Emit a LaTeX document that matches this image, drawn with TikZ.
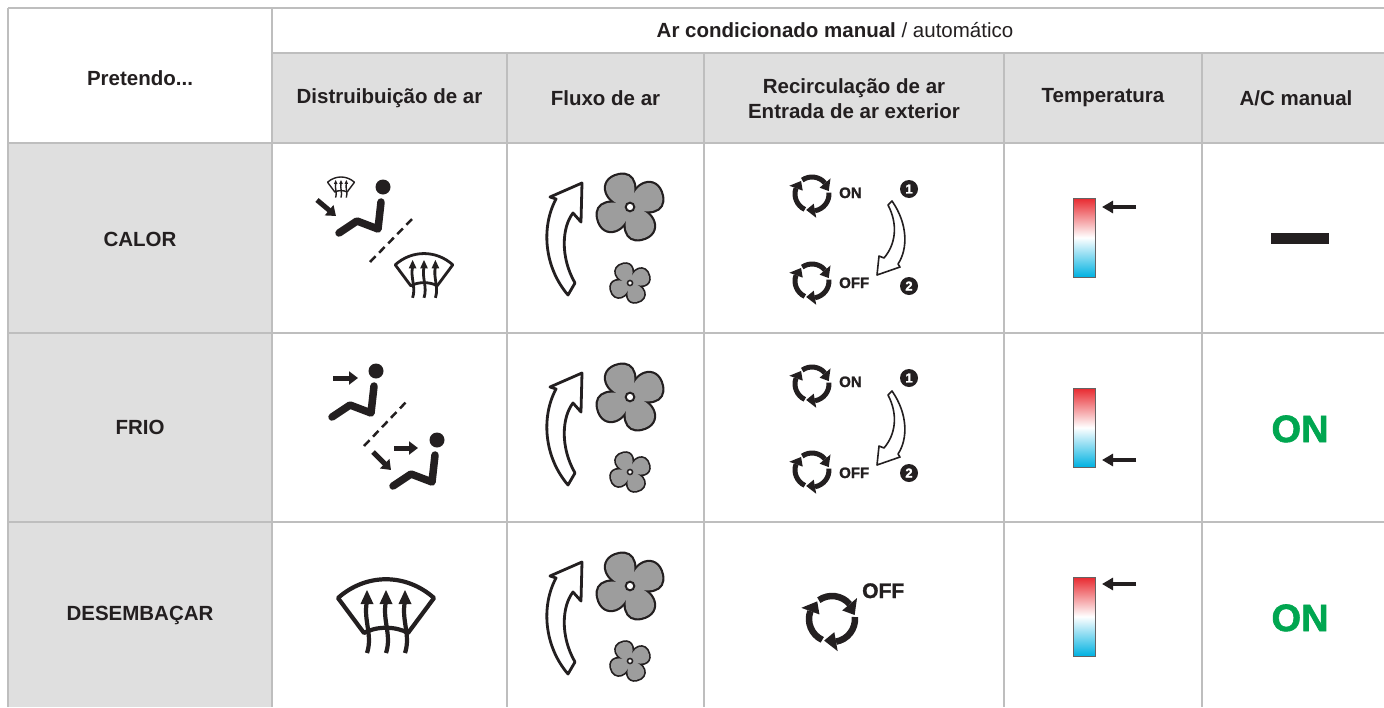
\documentclass[tikz,border=0pt]{standalone}
\usepackage{fontspec}
\setmainfont{Liberation Sans}
\newfontfamily\heavyfont[FakeBold=1.6]{Liberation Sans Bold}
\usetikzlibrary{arrows.meta}

\definecolor{gridgrey}{HTML}{BEBEBE}
\definecolor{headgrey}{HTML}{DFDFDF}
\definecolor{ink}{HTML}{231F20}
\definecolor{fangrey}{HTML}{9D9D9D}
\definecolor{acgreen}{HTML}{00A650}
\definecolor{hotred}{HTML}{E8292F}
\definecolor{coldblue}{HTML}{00B1E1}

\newcommand\fanblade{(0,0) .. controls (0.25,-0.72) and (1.05,-0.76) .. (1.02,-0.08) .. controls (1.0,0.42) and (0.45,0.38) .. (0,0)}

\tikzset{
  gridline/.style={draw=gridgrey,line width=2pt},
  headtext/.style={text=ink,font=\fontsize{20.5}{25}\selectfont\bfseries,align=center},
  limb/.style={ink,line width=7.5pt,line cap=round,line join=round},
  blowarrow/.style={ink,line width=5pt,-{Triangle[length=9pt,width=13pt]}},
  cutline/.style={ink,line width=2.5pt,dash pattern=on 8pt off 5pt},
  modetext/.style={text=ink,font=\fontsize{15}{18}\heavyfont,inner sep=0pt,anchor=base west},
  badge/.style={circle,fill=ink,text=white,font=\fontsize{13}{13}\heavyfont,inner sep=0pt,minimum size=18pt},
  acon/.style={text=acgreen,font=\fontsize{38}{40}\heavyfont,inner sep=0pt,anchor=base},
  pics/person/.style={code={
    \fill[ink] (0,0) circle (7.5);
    \draw[limb] (-2,15) -- (-5,42) -- (-26,34) -- (-44,46);
  }},
  pics/defrost/.style={code={
    \draw[ink,line width=#1,line join=round] (-48,-17) .. controls (-20,-42) and (20,-42) .. (48,-17)
      -- (22,18) .. controls (10,11) and (-10,11) .. (-22,18) -- cycle;
    \foreach \x in {-19,0,19} {
      \draw[ink,line width=#1] (\x,-14) .. controls (\x-4,5) and (\x+6,20) .. (\x,38);
      \fill[ink] (\x,-25) -- (\x+6.5,-11) -- (\x-6.5,-11) -- cycle;
    }
  }},
  pics/fan/.style={code={
    \foreach \r in {-75,15,105,195}
      \draw[ink,line width=#1,rotate=\r] \fanblade;
    \foreach \r in {-75,15,105,195}
      \fill[fangrey,rotate=\r] \fanblade;
    \filldraw[fill=white,draw=ink,line width=0.45*#1] (0,0) circle (0.13);
  }},
  pics/flow/.style={code={
    \filldraw[fill=white,draw=ink,line width=2.8pt,line join=round] (-74,-8) -- (-80,-10) -- (-48,-24) -- (-49,15) -- (-57,6)
      .. controls (-68,20) and (-70,50) .. (-55,76) -- (-62,88) .. controls (-86,60) and (-89,20) .. (-74,-8) -- cycle;
  }},
  pics/recirc/.style={code={
    \foreach \a in {115,235,355} {
      \draw[ink,line width=#1] (\a:1) arc[start angle=\a,end angle=\a+85,radius=1];
      \fill[ink] ({\a+115}:1) -- ({\a+85}:1.42) -- ({\a+85}:0.58) -- cycle;
    }
  }},
  pics/switcharrow/.style={code={
    \filldraw[fill=white,draw=ink,line width=1.6pt,line join=round] (76,11) -- (80,7) .. controls (96,30) and (96,55) .. (86,70)
      -- (88,73) -- (65,81) -- (67,62) -- (72,64) .. controls (84,50) and (86,30) .. (76,11) -- cycle;
  }},
  pics/thermo/.style={code={
    \shade[top color=hotred,bottom color=coldblue,middle color=white] (0,0) rectangle (22,79);
    \draw[ink!70,line width=1pt] (0,0) rectangle (22,79);
    \draw[ink,line width=4pt,-{Triangle[length=11pt,width=12pt]}] (63,#1) -- (29,#1);
  }}
}

\begin{document}
\begin{tikzpicture}[x=1pt,y=-1pt]
  \useasboundingbox[fill=white] (0,0) rectangle (1384,707);

  % table
  \fill[headgrey] (272,53) rectangle (1384,143);
  \fill[headgrey] (8,143) rectangle (272,707);
  \draw[gridline] (8,8) -- (1384,8);
  \draw[gridline] (272,53) -- (1384,53);
  \foreach \y in {143,333,522}
    \draw[gridline] (8,\y) -- (1384,\y);
  \draw[gridline] (8,8) -- (8,707);
  \draw[gridline] (272,8) -- (272,707);
  \foreach \x in {507,704,1004,1202}
    \draw[gridline] (\x,53) -- (\x,707);

  % headers
  \node[headtext] (head) at (835,30) {Ar condicionado manual {\mdseries / automático}};
  \node[headtext] (pretendo) at (140,78) {Pretendo...};
  \node[headtext] (hdist) at (389.5,98) {Distruibuição de ar};
  \node[headtext] (hflux) at (605.5,98) {Fluxo de ar};
  \node[headtext] (hrecirc) at (854,98.5) {Recirculação de ar\\Entrada de ar exterior};
  \node[headtext] (htemp) at (1103,98) {Temperatura};
  \node[headtext] (hac) at (1296,98) {A/C manual};

  \node[headtext] (calor) at (140,239) {CALOR};
  \node[headtext] (frio) at (140,427) {FRIO};
  \node[headtext] (desemb) at (140,615) {DESEMBAÇAR};

  % distribution
  \pic[scale=0.28] at (341,187) {defrost=1.4pt};
  \pic at (383,187) {person};
  \draw[blowarrow] (317,200) -- (336,216);
  \draw[cutline] (370,262) -- (415,216);
  \pic[scale=0.6] at (424,275) {defrost=2.8pt};

  \pic at (376,371) {person};
  \draw[blowarrow] (333,378) -- (358,378);
  \draw[cutline] (364,446) -- (408,400);
  \pic at (437,440) {person};
  \draw[blowarrow] (394,448) -- (418,448);
  \draw[blowarrow] (373,452) -- (391,470);

  \pic at (386,615) {defrost=4.2pt};

  % air flow
  \foreach \y/\s in {207/283, 397/472, 586/661} {
    \pic at (630,\y) {flow};
    \pic[scale=33] at (630,\y) {fan=4.4pt};
    \pic[scale=19.5] at (630,\s) {fan=3.4pt};
  }

  % recirculation
  \pic[scale=17] at (812,194) {recirc=5pt};
  \node[modetext] (on1) at (839,198) {ON};
  \node[badge] (one1) at (909,189) {1};
  \pic at (812,194) {switcharrow};
  \pic[scale=17] at (812,281) {recirc=5pt};
  \node[modetext] (off1) at (839,288) {OFF};
  \node[badge] (two1) at (909,286) {2};

  \pic[scale=17] at (812,384) {recirc=5pt};
  \node[modetext] (on2) at (839,387) {ON};
  \node[badge] (one2) at (909,378) {1};
  \pic at (812,384) {switcharrow};
  \pic[scale=17] at (812,470) {recirc=5pt};
  \node[modetext] (off2) at (839,478) {OFF};
  \node[badge] (two2) at (909,473) {2};

  \pic[scale=23] at (832,619) {recirc=6.5pt};
  \node[modetext,font=\fontsize{21}{24}\heavyfont] (off3) at (862,598) {OFF};

  % temperature
  \pic at (1073,198) {thermo=9};
  \pic at (1073,388) {thermo=72};
  \pic at (1073,577) {thermo=7};

  % A/C
  \fill[ink] (1271,233) rectangle (1329,244);
  \node[acon] (acon2) at (1300,442) {ON};
  \node[acon] (acon3) at (1300,631) {ON};
\end{tikzpicture}
\end{document}
